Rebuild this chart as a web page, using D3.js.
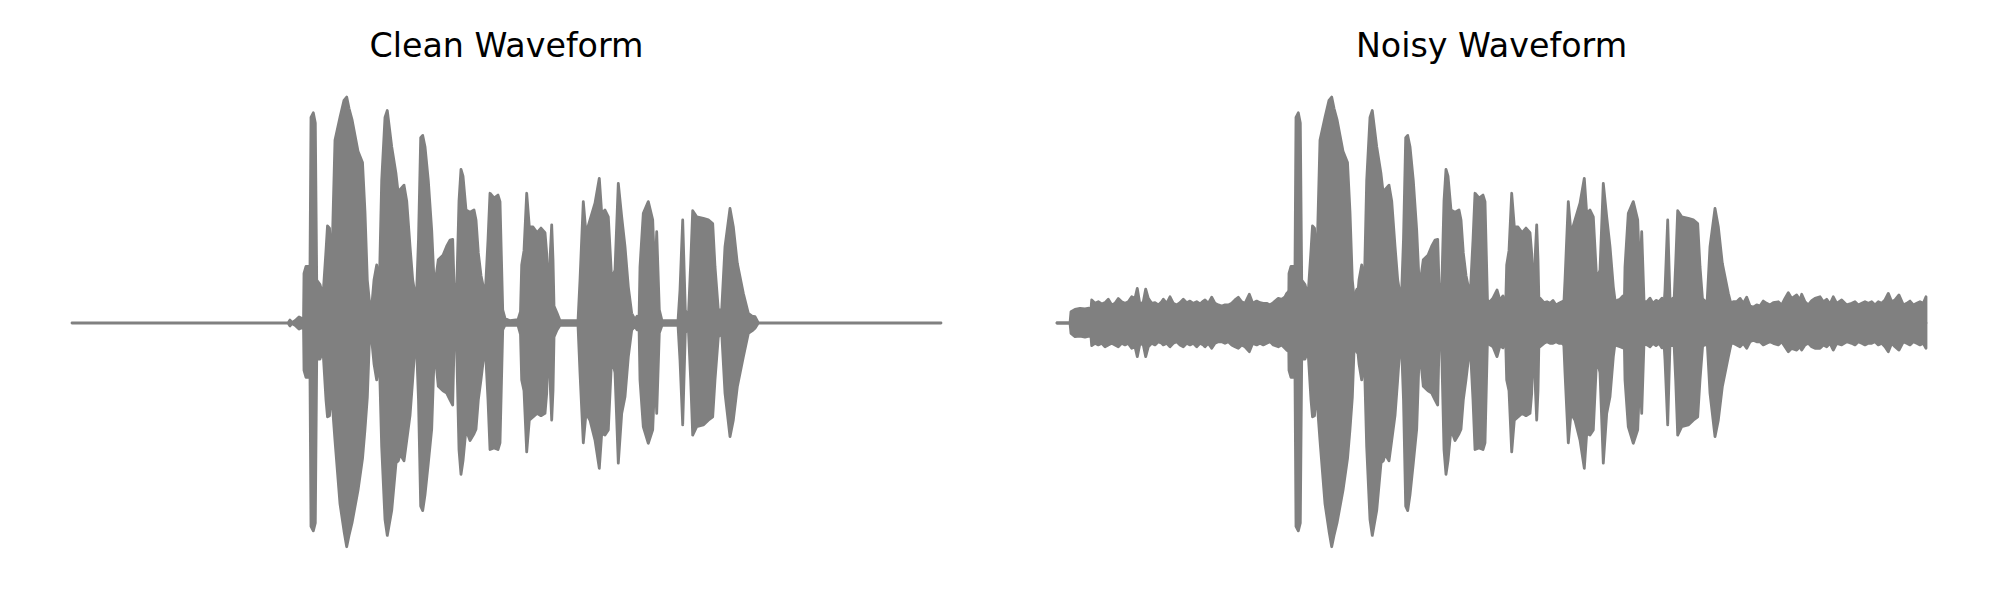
<!DOCTYPE html>
<html>
<head>
<meta charset="utf-8">
<script src="https://cdn.jsdelivr.net/npm/d3@7"></script>
<style>
  html, body { margin: 0; padding: 0; background: #ffffff; }
  svg { display: block; }
</style>
</head>
<body>
<svg id="chart" width="2000" height="600"></svg>
<script>
// ---------------- DATA ----------------
// Time axis in seconds, amplitude normalised to the loudest peak.
const panelTitles = ["Clean Waveform", "Noisy Waveform"];
const duration = 8.69;

// Clean speech waveform: envelope breakpoints (time, upper, lower)
const cleanTime = [
  0, 2.16, 2.18, 2.20, 2.23, 2.27, 2.30, 2.315, 2.32, 2.34, 2.38, 2.39, 2.413, 2.433, 2.447,
  2.48, 2.51, 2.54, 2.555, 2.575, 2.59, 2.605, 2.63, 2.68, 2.72, 2.747, 2.77, 2.80, 2.86,
  2.905, 2.93, 2.953, 2.973, 2.997, 3.02, 3.047, 3.073, 3.097, 3.13, 3.153, 3.197, 3.24,
  3.263, 3.28, 3.32, 3.347, 3.38, 3.407, 3.43, 3.447, 3.465, 3.487, 3.507, 3.53, 3.563,
  3.597, 3.62, 3.64, 3.663, 3.71, 3.747, 3.78, 3.807, 3.82, 3.847, 3.87, 3.89, 3.91, 3.94,
  3.98, 4.02, 4.04, 4.063, 4.09, 4.113, 4.137, 4.16, 4.18, 4.22, 4.26, 4.28, 4.307, 4.33,
  4.38, 4.46, 4.485, 4.497, 4.52, 4.547, 4.573, 4.61, 4.65, 4.69, 4.73, 4.747, 4.763, 4.78,
  4.797, 4.81, 4.82, 4.85, 4.88, 5.06, 5.08, 5.113, 5.14, 5.18, 5.23, 5.273, 5.297, 5.33,
  5.363, 5.397, 5.43, 5.463, 5.497, 5.53, 5.563, 5.597, 5.63, 5.65, 5.67, 5.68, 5.713,
  5.763, 5.807, 5.83, 5.847, 5.873, 5.90, 6.06, 6.08, 6.107, 6.133, 6.163, 6.187, 6.207,
  6.247, 6.313, 6.363, 6.407, 6.43, 6.463, 6.497, 6.53, 6.58, 6.613, 6.653, 6.713, 6.763,
  6.80, 6.83, 6.863, 8.69
];
const cleanUpper = [
  0, 0, 0.013, 0.002, 0.01, 0.027, 0.02, 0.005, 0.22, 0.25, 0.25, 0.91, 0.93, 0.885, 0.19,
  0.17, 0.12, 0.32, 0.43, 0.42, 0.28, 0.38, 0.81, 0.91, 0.985, 1.0, 0.95, 0.90, 0.76,
  0.71, 0.49, 0.19, 0.10, 0.072, 0.19, 0.257, 0.16, 0.63, 0.91, 0.94, 0.78, 0.66,
  0.57, 0.59, 0.61, 0.54, 0.34, 0.19, 0.13, 0.146, 0.37, 0.82, 0.83, 0.78, 0.63,
  0.41, 0.19, 0.205, 0.28, 0.30, 0.34, 0.367, 0.37, 0.176, 0.146, 0.54, 0.68, 0.65, 0.50,
  0.49, 0.50, 0.456, 0.31, 0.21, 0.16, 0.168, 0.367, 0.574, 0.553, 0.566, 0.537, 0.058, 0.02,
  0.01, 0.015, 0.05, 0.257, 0.32, 0.574, 0.426, 0.425, 0.40, 0.42, 0.40, 0.308, 0.10, 0.28,
  0.434, 0.28, 0.075, 0.044, 0.01, 0.01, 0.19, 0.537, 0.397, 0.456, 0.53, 0.64, 0.485, 0.50,
  0.47, 0.19, 0.235, 0.618, 0.47, 0.338, 0.16, 0.043, 0.015, 0.03, 0.01, 0.249, 0.485,
  0.537, 0.456, 0.19, 0.404, 0.058, 0.01, 0.01, 0.146, 0.456, 0.058, 0.02, 0.265, 0.497,
  0.47, 0.463, 0.456, 0.44, 0.249, 0.058, 0.058, 0.338, 0.507, 0.426, 0.264, 0.131, 0.043,
  0.03, 0.028, 0, 0
];
const cleanLower = [
  0, 0, -0.013, -0.002, -0.01, -0.027, -0.02, -0.005, -0.21, -0.24, -0.24, -0.90, -0.92, -0.885, -0.16,
  -0.16, -0.12, -0.34, -0.415, -0.41, -0.30, -0.37, -0.52, -0.80, -0.92, -0.99, -0.94, -0.885, -0.74,
  -0.60, -0.47, -0.33, -0.09, -0.075, -0.18, -0.252, -0.15, -0.55, -0.87, -0.94, -0.83, -0.62,
  -0.61, -0.58, -0.61, -0.52, -0.41, -0.25, -0.105, -0.12, -0.34, -0.81, -0.83, -0.76, -0.62,
  -0.47, -0.164, -0.177, -0.28, -0.30, -0.31, -0.34, -0.363, -0.105, -0.12, -0.56, -0.67, -0.61, -0.47,
  -0.52, -0.49, -0.47, -0.34, -0.25, -0.164, -0.14, -0.34, -0.56, -0.553, -0.56, -0.53, -0.031, -0.01,
  -0.01, -0.01, -0.05, -0.252, -0.30, -0.57, -0.43, -0.416, -0.40, -0.41, -0.40, -0.31, -0.05, -0.25,
  -0.43, -0.30, -0.062, -0.031, -0.01, -0.01, -0.22, -0.53, -0.40, -0.43, -0.518, -0.643, -0.488, -0.496,
  -0.473, -0.15, -0.22, -0.62, -0.40, -0.326, -0.15, -0.031, -0.015, -0.03, -0.01, -0.252, -0.46,
  -0.532, -0.473, -0.22, -0.40, -0.044, -0.01, -0.01, -0.164, -0.451, -0.044, -0.02, -0.252, -0.496,
  -0.459, -0.451, -0.43, -0.415, -0.252, -0.062, -0.044, -0.31, -0.503, -0.43, -0.282, -0.15, -0.046,
  -0.035, -0.023, 0, 0
];

// Added background noise seen in the noisy waveform: envelope breakpoints
const noiseTime = [
  0, 0.13, 0.14, 0.18, 0.23, 0.28, 0.32, 0.34, 0.347, 0.38, 0.413, 0.447, 0.48, 0.513,
  0.547, 0.58, 0.613, 0.647, 0.68, 0.713, 0.747, 0.78, 0.803, 0.83, 0.863, 0.887, 0.913,
  0.947, 0.98, 1.013, 1.047, 1.063, 1.097, 1.13, 1.163, 1.197, 1.23, 1.263, 1.297, 1.33,
  1.363, 1.397, 1.43, 1.463, 1.48, 1.513, 1.547, 1.58, 1.613, 1.647, 1.68, 1.713, 1.747,
  1.78, 1.813, 1.847, 1.88, 1.923, 1.957, 1.997, 2.03, 2.063, 2.097, 2.13, 2.163, 2.213,
  2.247, 2.28, 2.297, 2.33, 2.40, 2.50, 2.60, 2.70, 2.80, 2.90, 2.97, 3.00, 3.03, 3.10,
  3.20, 3.30, 3.40, 3.43, 3.50, 3.60, 3.64, 3.70, 3.80, 3.85, 3.90, 4.00, 4.10, 4.14,
  4.20, 4.30, 4.33, 4.36, 4.40, 4.43, 4.46, 4.49, 4.55, 4.65, 4.75, 4.80, 4.83, 4.87,
  4.90, 4.93, 4.96, 4.99, 5.02, 5.05, 5.08, 5.20, 5.35, 5.50, 5.60, 5.63, 5.66, 5.70,
  5.80, 5.90, 5.93, 5.96, 5.99, 6.02, 6.05, 6.08, 6.13, 6.16, 6.25, 6.40, 6.46, 6.50,
  6.60, 6.70, 6.73, 6.763, 6.797, 6.83, 6.863, 6.897, 6.93, 6.963, 6.997, 7.03, 7.063,
  7.097, 7.13, 7.163, 7.213, 7.247, 7.28, 7.313, 7.347, 7.397, 7.43, 7.447, 7.48, 7.513,
  7.547, 7.58, 7.63, 7.663, 7.697, 7.73, 7.763, 7.797, 7.847, 7.897, 7.947, 7.98, 8.013,
  8.047, 8.08, 8.113, 8.147, 8.18, 8.213, 8.247, 8.28, 8.313, 8.347, 8.38, 8.42, 8.463,
  8.497, 8.53, 8.563, 8.597, 8.63, 8.663, 8.69
];
const noiseUpper = [
  0, 0, 0.05, 0.06, 0.065, 0.062, 0.066, 0.06, 0.102, 0.087, 0.094, 0.084, 0.09, 0.105,
  0.08, 0.087, 0.108, 0.094, 0.087, 0.094, 0.116, 0.109, 0.153, 0.08, 0.094, 0.150, 0.109,
  0.087, 0.09, 0.08, 0.094, 0.105, 0.087, 0.116, 0.087, 0.08, 0.09, 0.105, 0.09, 0.097,
  0.087, 0.094, 0.084, 0.097, 0.102, 0.087, 0.114, 0.087, 0.08, 0.075, 0.08, 0.08, 0.087,
  0.102, 0.114, 0.094, 0.087, 0.127, 0.087, 0.097, 0.09, 0.087, 0.087, 0.08, 0.09, 0.109,
  0.105, 0.116, 0.131, 0.146, 0.10, 0.09, 0.10, 0.09, 0.095, 0.09, 0.12, 0.15, 0.12, 0.09,
  0.10, 0.09, 0.10, 0.12, 0.09, 0.095, 0.11, 0.09, 0.10, 0.12, 0.09, 0.10, 0.11, 0.12,
  0.09, 0.10, 0.094, 0.11, 0.146, 0.10, 0.12, 0.09, 0.09, 0.095, 0.09, 0.10, 0.11, 0.09,
  0.094, 0.087, 0.10, 0.08, 0.087, 0.094, 0.10, 0.09, 0.095, 0.09, 0.10, 0.105, 0.12, 0.09,
  0.095, 0.094, 0.11, 0.087, 0.10, 0.094, 0.11, 0.09, 0.10, 0.11, 0.09, 0.095, 0.105, 0.09,
  0.095, 0.10, 0.09, 0.094, 0.094, 0.109, 0.087, 0.114, 0.075, 0.07, 0.08, 0.075, 0.097,
  0.087, 0.08, 0.09, 0.094, 0.08, 0.109, 0.134, 0.109, 0.124, 0.102, 0.127, 0.094, 0.08,
  0.099, 0.109, 0.116, 0.094, 0.105, 0.084, 0.116, 0.087, 0.102, 0.08, 0.087, 0.094, 0.08,
  0.087, 0.094, 0.087, 0.094, 0.08, 0.094, 0.087, 0.102, 0.131, 0.094, 0.102, 0.124, 0.08,
  0.087, 0.097, 0.08, 0.087, 0.094, 0.087, 0.116
];
const noiseLower = [
  0, 0, -0.046, -0.06, -0.058, -0.062, -0.058, -0.06, -0.10, -0.09, -0.097, -0.09, -0.105, -0.097,
  -0.09, -0.097, -0.105, -0.09, -0.097, -0.09, -0.112, -0.105, -0.149, -0.09, -0.097, -0.149, -0.105,
  -0.09, -0.097, -0.083, -0.09, -0.097, -0.09, -0.105, -0.09, -0.083, -0.097, -0.105, -0.09, -0.097,
  -0.09, -0.105, -0.09, -0.097, -0.105, -0.09, -0.112, -0.09, -0.083, -0.083, -0.09, -0.083, -0.097,
  -0.105, -0.112, -0.097, -0.105, -0.127, -0.09, -0.097, -0.09, -0.097, -0.09, -0.083, -0.097, -0.105,
  -0.097, -0.112, -0.12, -0.127, -0.10, -0.095, -0.09, -0.10, -0.09, -0.095, -0.11, -0.13, -0.12, -0.09,
  -0.095, -0.10, -0.09, -0.11, -0.09, -0.10, -0.10, -0.095, -0.09, -0.12, -0.095, -0.09, -0.10, -0.12,
  -0.095, -0.09, -0.097, -0.105, -0.149, -0.10, -0.11, -0.09, -0.09, -0.09, -0.095, -0.10, -0.105, -0.09,
  -0.083, -0.09, -0.09, -0.083, -0.09, -0.09, -0.10, -0.09, -0.09, -0.095, -0.10, -0.105, -0.11, -0.09,
  -0.09, -0.097, -0.105, -0.09, -0.10, -0.09, -0.11, -0.09, -0.10, -0.10, -0.09, -0.09, -0.10, -0.095,
  -0.09, -0.10, -0.09, -0.09, -0.097, -0.105, -0.09, -0.112, -0.083, -0.076, -0.083, -0.083, -0.097,
  -0.09, -0.083, -0.09, -0.097, -0.083, -0.105, -0.127, -0.112, -0.12, -0.105, -0.12, -0.097, -0.09,
  -0.105, -0.112, -0.112, -0.097, -0.105, -0.09, -0.12, -0.09, -0.097, -0.083, -0.09, -0.097, -0.083,
  -0.09, -0.097, -0.09, -0.09, -0.083, -0.097, -0.09, -0.105, -0.127, -0.09, -0.105, -0.12, -0.083,
  -0.09, -0.097, -0.083, -0.09, -0.097, -0.09, -0.112
];

// ---------------- CHART ----------------
const svg = d3.select("#chart");
svg.append("rect").attr("width", 2000).attr("height", 600).attr("fill", "#ffffff");

const waveColor = "#808080";
const yScale = d3.scaleLinear().domain([-1, 1]).range([549, 97]);

const toRows = (t, hi, lo) => t.map((v, i) => ({ t: v, hi: hi[i], lo: lo[i] }));
const cleanRows = toRows(cleanTime, cleanUpper, cleanLower);
const noiseRows = toRows(noiseTime, noiseUpper, noiseLower);

const panels = [
  { title: panelTitles[0], range: [72, 941], layers: [cleanRows] },
  { title: panelTitles[1], range: [1057, 1926], layers: [noiseRows, cleanRows] }
];

panels.forEach(p => {
  const x = d3.scaleLinear().domain([0, duration]).range(p.range);
  const g = svg.append("g");
  const area = d3.area()
    .x(d => x(d.t))
    .y0(d => yScale(d.lo))
    .y1(d => yScale(d.hi));
  p.layers.forEach(rows => {
    g.append("path")
      .datum(rows)
      .attr("d", area)
      .attr("fill", waveColor)
      .attr("stroke", waveColor)
      .attr("stroke-width", 2.8)
      .attr("stroke-linejoin", "round");
  });
  g.append("text")
    .attr("x", (p.range[0] + p.range[1]) / 2)
    .attr("y", 57)
    .attr("text-anchor", "middle")
    .attr("font-family", "DejaVu Sans")
    .attr("font-size", 33.3)
    .attr("fill", "#000000")
    .text(p.title);
});
</script>
</body>
</html>
